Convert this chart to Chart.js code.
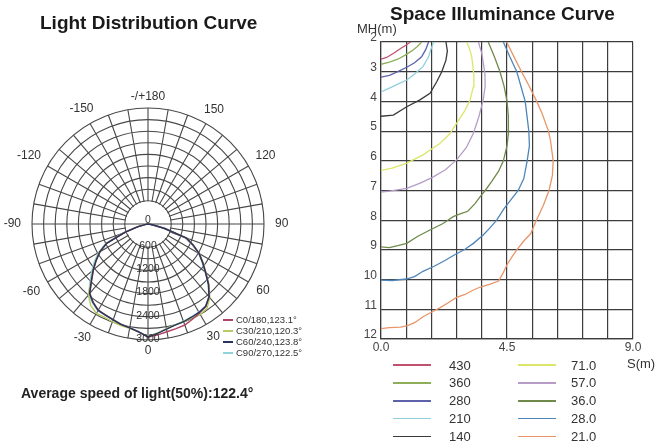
<!DOCTYPE html>
<html>
<head>
<meta charset="utf-8">
<script src="https://cdn.jsdelivr.net/npm/chart.js@4.4.1/dist/chart.umd.min.js"></script>
<style>
  body { margin:0; width:658px; height:442px; background:#fff; position:relative; overflow:hidden;
         font-family:"Liberation Sans", Arial, sans-serif; color:#222; }
  .abs { position:absolute; line-height:1; white-space:nowrap; }
  .title { font-weight:bold; font-size:19px; color:#1a1a1a; }
  #polarBox { position:absolute; left:0; top:0; width:335px; height:442px; }
  #isoBox { position:absolute; left:340px; top:0; width:318px; height:362px; }
  .lg-line { position:absolute; height:1.5px; }
  .lg-text { position:absolute; line-height:1; white-space:nowrap; color:#333; }
</style>
</head>
<body>
<div id="polarBox"><canvas id="polarChart"></canvas></div>
<div id="isoBox"><canvas id="isoChart"></canvas></div>
<div class="abs title" style="left:40px; top:13px;">Light Distribution Curve</div>
<div class="abs title" style="left:390px; top:4px;">Space Illuminance Curve</div>
<div class="abs" style="left:357px; top:22px; font-size:13px; color:#333;">MH(m)</div>
<div class="abs" style="left:627px; top:357px; font-size:13px; color:#333;">S(m)</div>
<div class="abs" style="left:21px; top:386px; font-size:14px; font-weight:bold; color:#222;">Average speed of light(50%):122.4°</div>
<div id="polarLegend"></div>
<div id="isoLegend"></div>
<script>
Chart.defaults.font.family = '"Liberation Sans", Arial, sans-serif';

// Light distribution: one value (cd) every 5 deg, clockwise from the top (180)
const polarAngles = [180, 175, 170, 165, 160, 155, 150, 145, 140, 135, 130, 125, 120, 115, 110, 105, 100, 95,
    90, 85, 80, 75, 70, 65, 60, 55, 50, 45, 40, 35, 30, 25, 20, 15, 10, 5,
    0, -5, -10, -15, -20, -25, -30, -35, -40, -45, -50, -55, -60, -65, -70, -75, -80, -85,
    -90, -95, -100, -105, -110, -115, -120, -125, -130, -135, -140, -145, -150, -155, -160, -165, -170, -175];

const c0 = [0, 0, 0, 0, 0, 0, 0, 0, 0, 0, 0, 0, 0, 0, 0, 0, 0, 0,
    0, 0, 110, 430, 1040, 1280, 1520, 1730, 1950, 2220, 2450, 2610, 2660, 2720, 2780, 2800, 2830, 2880,
    2930, 2800, 2720, 2690, 2630, 2600, 2570, 2470, 2340, 2060, 1840, 1630, 1430, 1170, 620, 270, 60, 0,
    0, 0, 0, 0, 0, 0, 0, 0, 0, 0, 0, 0, 0, 0, 0, 0, 0, 0];
const c30 = [0, 0, 0, 0, 0, 0, 0, 0, 0, 0, 0, 0, 0, 0, 0, 0, 0, 0,
    0, 0, 130, 470, 1070, 1300, 1540, 1740, 1960, 2230, 2490, 2660, 2700, 2680, 2690, 2700, 2750, 2830,
    2910, 2800, 2740, 2720, 2690, 2660, 2670, 2580, 2400, 2080, 1860, 1650, 1450, 1190, 660, 290, 70, 0,
    0, 0, 0, 0, 0, 0, 0, 0, 0, 0, 0, 0, 0, 0, 0, 0, 0, 0];
const c60 = [0, 0, 0, 0, 0, 0, 0, 0, 0, 0, 0, 0, 0, 0, 0, 0, 0, 0,
    0, 0, 120, 450, 1060, 1290, 1530, 1720, 1940, 2210, 2460, 2600, 2640, 2660, 2690, 2710, 2760, 2840,
    2920, 2800, 2730, 2690, 2640, 2600, 2580, 2480, 2350, 2070, 1850, 1640, 1440, 1180, 640, 280, 60, 0,
    0, 0, 0, 0, 0, 0, 0, 0, 0, 0, 0, 0, 0, 0, 0, 0, 0, 0];
const c90 = [0, 0, 0, 0, 0, 0, 0, 0, 0, 0, 0, 0, 0, 0, 0, 0, 0, 0,
    0, 0, 90, 400, 1000, 1250, 1510, 1700, 1930, 2200, 2450, 2590, 2630, 2650, 2680, 2700, 2750, 2830,
    2910, 2790, 2720, 2680, 2630, 2590, 2590, 2500, 2390, 2120, 1900, 1690, 1480, 1220, 680, 300, 70, 0,
    0, 0, 0, 0, 0, 0, 0, 0, 0, 0, 0, 0, 0, 0, 0, 0, 0, 0];

const ringTicks = [0, 600, 1200, 1800, 2400, 3000];
const angleTicks = [180, 150, 120, 90, 60, 30, 0, -30, -60, -90, -120, -150];
const planeNames = ['C0/180,123.1°', 'C30/210,120.3°', 'C60/240,123.8°', 'C90/270,122.5°'];
const planeColors = ['#b24463', '#b9c963', '#27365a', '#8fd3dc'];

// Space illuminance: isolux lines, [S (m), MH (m)]
const lux430 = [[0, 2.58], [0.2, 2.52], [0.45, 2.38], [0.7, 2.22], [0.9, 2.1], [1.05, 2.0]];
const lux360 = [[0, 2.75], [0.3, 2.68], [0.6, 2.58], [0.85, 2.45], [1.1, 2.3], [1.3, 2.15], [1.45, 2.0]];
const lux280 = [[0, 3.18], [0.3, 3.12], [0.6, 3.0], [0.92, 2.85], [1.2, 2.7], [1.45, 2.5], [1.6, 2.25], [1.7, 2.0]];
const lux210 = [[0, 3.68], [0.3, 3.55], [0.6, 3.42], [0.92, 3.28], [1.2, 3.08], [1.5, 2.83], [1.7, 2.5], [1.78, 2.25], [1.88, 2.0]];
const lux140 = [[0, 4.5], [0.44, 4.46], [0.92, 4.18], [1.39, 3.95], [1.75, 3.73], [1.99, 3.34], [2.17, 3.0],
    [2.32, 2.61], [2.37, 2.3], [2.32, 2.0]];
const lux71 = [[0, 6.32], [0.4, 6.25], [0.92, 6.08], [1.5, 5.8], [2.1, 5.42], [2.45, 5.1], [2.7, 4.74], [3.0, 4.3],
    [3.18, 3.95], [3.3, 3.5], [3.32, 3.17], [3.28, 2.8], [3.24, 2.49], [3.15, 2.2], [3.06, 2.0]];
const lux57 = [[0, 7.05], [0.3, 7.02], [0.92, 6.93], [1.4, 6.75], [1.87, 6.54], [2.3, 6.3], [2.7, 5.97], [3.05, 5.55],
    [3.3, 5.07], [3.5, 4.5], [3.65, 3.95], [3.72, 3.5], [3.71, 3.05], [3.6, 2.38], [3.48, 2.0]];
const lux36 = [[0, 8.9], [0.3, 8.92], [0.6, 8.86], [0.92, 8.78], [1.3, 8.55], [1.75, 8.33], [2.2, 8.12], [2.58, 7.88],
    [2.85, 7.78], [3.1, 7.7], [3.35, 7.45], [3.55, 7.2], [3.72, 7.0], [3.95, 6.7], [4.2, 6.35], [4.37, 6.0],
    [4.5, 5.5], [4.56, 5.0], [4.55, 4.5], [4.5, 4.0], [4.4, 3.5], [4.25, 3.0], [4.05, 2.5], [3.83, 2.0]];
const lux28 = [[0, 10.02], [0.4, 10.03], [0.9, 9.98], [1.2, 9.9], [1.5, 9.72], [1.9, 9.55], [2.3, 9.35], [2.6, 9.18],
    [3.0, 8.98], [3.3, 8.78], [3.65, 8.5], [3.9, 8.25], [4.13, 8.0], [4.4, 7.6], [4.65, 7.3], [4.9, 7.0],
    [5.1, 6.6], [5.22, 6.0], [5.3, 5.5], [5.28, 5.0], [5.15, 4.0], [4.85, 3.0], [4.6, 2.5], [4.37, 2.0]];
const lux21 = [[0, 11.65], [0.3, 11.62], [0.7, 11.6], [0.95, 11.55], [1.2, 11.45], [1.5, 11.25], [1.8, 11.1],
    [2.1, 10.95], [2.4, 10.78], [2.7, 10.6], [3.0, 10.5], [3.3, 10.35], [3.55, 10.25], [3.9, 10.15], [4.2, 10.05],
    [4.35, 9.8], [4.5, 9.5], [4.7, 9.2], [4.85, 9.0], [5.1, 8.7], [5.35, 8.45], [5.55, 8.0], [5.8, 7.5], [6.0, 7.0],
    [6.12, 6.5], [6.15, 6.0], [6.05, 5.3], [5.98, 5.0], [5.75, 4.4], [5.56, 4.0], [5.3, 3.5], [5.02, 3.0],
    [4.75, 2.5], [4.49, 2.0]];

const isoLines = [lux430, lux360, lux280, lux210, lux140, lux71, lux57, lux36, lux28, lux21];
const isoLabels = ['430', '360', '280', '210', '140', '71.0', '57.0', '36.0', '28.0', '21.0'];
const isoColors = ['#c2506f', '#8fae5a', '#5d62aa', '#8fd0dc', '#3a3a3a', '#dbe66a', '#b79cc8', '#6f8a4a', '#4f86b8', '#e8956a'];
const sTicks = [0, 4.5, 9];

const gridGrey = '#474747';

// white hub in the middle + ring / angle labels
const polarText = {
    id: 'polarText',
    beforeDatasetsDraw(chart) {
        const r = chart.scales.r;
        const ctx = chart.ctx;
        const hole = r.getDistanceFromCenterForValue(600);
        ctx.save();
        ctx.fillStyle = '#fff';
        ctx.beginPath();
        ctx.arc(r.xCenter, r.yCenter, hole - 0.8, 0, Math.PI * 2);
        ctx.fill();
        ctx.strokeStyle = gridGrey;
        ctx.lineWidth = 1.1;
        ctx.beginPath();
        ctx.moveTo(r.xCenter - hole, r.yCenter);
        ctx.lineTo(r.xCenter + hole, r.yCenter);
        ctx.stroke();
        ctx.restore();
    },
    afterDatasetsDraw(chart) {
        const r = chart.scales.r;
        const ctx = chart.ctx;
        ctx.save();
        ctx.fillStyle = '#333';
        ctx.textAlign = 'center';
        ctx.textBaseline = 'middle';
        ctx.font = '10.5px "Liberation Sans", Arial, sans-serif';
        ringTicks.forEach(v => {
            const d = r.getDistanceFromCenterForValue(v);
            ctx.fillText(String(v), r.xCenter, r.yCenter + (v === 0 ? -4 : d - 1));
        });
        ctx.font = '12px "Liberation Sans", Arial, sans-serif';
        angleTicks.forEach(a => {
            const i = polarAngles.indexOf(a);
            const txt = a === 180 ? '-/+180' : String(a);
            const w = ctx.measureText(txt).width;
            const s = Math.abs(r.getPointPosition(i, 1).x - r.xCenter);
            const p = r.getPointPosition(i, r.drawingArea + 11 + s * w / 2);
            ctx.fillText(txt, p.x, p.y);
        });
        ctx.restore();
    }
};

function initCharts() {
    const drawOrder = [1, 2, 0, 3];
    new Chart(document.getElementById('polarChart'), {
        type: 'radar',
        data: {
            labels: polarAngles,
            datasets: [c0, c30, c60, c90].map((d, k) => ({
                label: planeNames[k],
                data: d,
                borderColor: planeColors[k],
                borderWidth: 1.4,
                pointRadius: 0,
                fill: false,
                order: drawOrder[k]
            }))
        },
        options: {
            responsive: true,
            maintainAspectRatio: false,
            animation: false,
            layout: { padding: { left: 32, top: 108, right: 71, bottom: 102 } },
            plugins: { legend: { display: false }, tooltip: { enabled: false } },
            scales: {
                r: {
                    min: 0,
                    max: 3000,
                    ticks: { display: false, stepSize: 300 },
                    pointLabels: { display: false },
                    grid: {
                        circular: true,
                        color: ctx => (ctx.tick && ctx.tick.value < 600) ? 'rgba(0,0,0,0)' : gridGrey,
                        lineWidth: 1.1
                    },
                    angleLines: {
                        color: gridGrey,
                        lineWidth: ctx => ctx.index % 2 === 0 ? 1.1 : 0
                    }
                }
            }
        },
        plugins: [polarText]
    });

    new Chart(document.getElementById('isoChart'), {
        type: 'scatter',
        data: {
            datasets: isoLines.map((pts, k) => ({
                label: isoLabels[k],
                data: pts.map(p => ({ x: p[0], y: p[1] })),
                showLine: true,
                borderColor: isoColors[k],
                borderWidth: 1.3,
                pointRadius: 0,
                tension: 0
            }))
        },
        options: {
            responsive: true,
            maintainAspectRatio: false,
            animation: false,
            layout: { padding: { left: 0, top: 42, right: 25, bottom: 3 } },
            plugins: { legend: { display: false }, tooltip: { enabled: false } },
            scales: {
                x: {
                    type: 'linear',
                    min: 0,
                    max: 9,
                    afterFit: s => { s.height = 20; },
                    ticks: {
                        stepSize: 0.9,
                        autoSkip: false,
                        maxRotation: 0,
                        padding: 1,
                        color: '#444',
                        font: { size: 12 },
                        callback: v => sTicks.some(t => Math.abs(t - v) < 1e-6) ? v.toFixed(1) : ''
                    },
                    grid: { color: '#3c3c3c', lineWidth: 1.2, drawTicks: false },
                    border: { color: '#3c3c3c', width: 1.2 }
                },
                y: {
                    type: 'linear',
                    min: 2,
                    max: 12,
                    reverse: true,
                    afterFit: s => { s.width = 41; },
                    ticks: { stepSize: 1, padding: 4, labelOffset: -4, color: '#444', font: { size: 12 } },
                    grid: { color: '#3c3c3c', lineWidth: 1.2, drawTicks: false },
                    border: { color: '#3c3c3c', width: 1.2 }
                }
            }
        }
    });
}

function buildLegends() {
    const pl = document.getElementById('polarLegend');
    planeNames.forEach((name, k) => {
        const cy = 320 + k * 11;
        const line = document.createElement('div');
        line.className = 'lg-line';
        line.style.cssText = `left:223px; top:${cy - 0.75}px; width:10px; background:${planeColors[k]};`;
        const txt = document.createElement('div');
        txt.className = 'lg-text';
        txt.style.cssText = `left:236px; top:${cy - 5}px; font-size:9.5px;`;
        txt.textContent = name;
        pl.appendChild(line);
        pl.appendChild(txt);
    });

    const il = document.getElementById('isoLegend');
    isoLabels.forEach((name, k) => {
        const col = Math.floor(k / 5);
        const row = k % 5;
        const cy = 365 + row * 17.9;
        const line = document.createElement('div');
        line.className = 'lg-line';
        line.style.cssText = `left:${col ? 518 : 393}px; top:${cy - 0.75}px; width:38px; background:${isoColors[k]};`;
        const txt = document.createElement('div');
        txt.className = 'lg-text';
        txt.style.cssText = `left:${col ? 571 : 449}px; top:${cy - 6.5}px; font-size:13px;`;
        txt.textContent = name;
        il.appendChild(line);
        il.appendChild(txt);
    });
}

document.addEventListener('DOMContentLoaded', () => {
    buildLegends();
    initCharts();
});
</script>
</body>
</html>
